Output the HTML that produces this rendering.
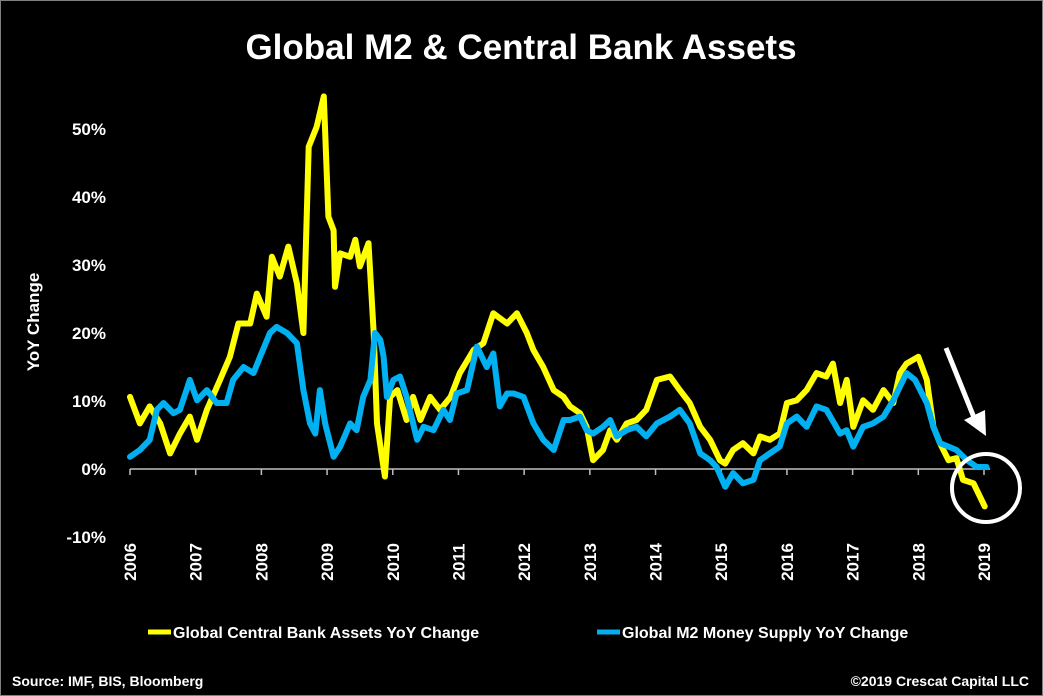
<!DOCTYPE html>
<html><head><meta charset="utf-8"><style>
html,body{margin:0;padding:0;background:#000;}
svg{display:block;font-family:"Liberation Sans",Arial,sans-serif;}
</style></head><body>
<svg id="chart" width="1043" height="696" viewBox="0 0 1043 696">
<rect x="0.5" y="0.5" width="1042" height="695" fill="#000" stroke="#7f7f7f"/>
<text x="521" y="59" text-anchor="middle" fill="#fff" font-size="35" font-weight="bold">Global M2 &amp; Central Bank Assets</text>
<text transform="translate(39,322) rotate(-90)" text-anchor="middle" fill="#fff" font-size="17" font-weight="bold">YoY Change</text>
<g id="yticks"></g>
<g id="xticks"></g>
<g id="series"></g>
<g>
<line x1="946" y1="348" x2="975" y2="420" stroke="#fff" stroke-width="5"/>
<polygon points="964,420 986,436 985,410" fill="#fff"/>
</g>
<circle cx="986" cy="488" r="34" fill="none" stroke="#fff" stroke-width="4"/>
<g>
<g>
<line x1="148" y1="632" x2="171" y2="632" stroke="#ffff00" stroke-width="5"/>
<text x="173" y="638" fill="#fff" font-size="16" font-weight="bold">Global Central Bank Assets YoY Change</text>
</g>
<g>
<line x1="597" y1="632" x2="620" y2="632" stroke="#00b0f0" stroke-width="5"/>
<text x="622" y="638" fill="#fff" font-size="16" font-weight="bold">Global M2 Money Supply YoY Change</text>
</g>
</g>
<text x="12" y="686" fill="#fff" font-size="14" font-weight="bold">Source: IMF, BIS, Bloomberg</text>
<text x="1029" y="686" text-anchor="end" fill="#fff" font-size="14" font-weight="bold">©2019 Crescat Capital LLC</text>
</svg>
<script>
const yTicks = [-10, 0, 10, 20, 30, 40, 50];
const yearLabels = [2006,2007,2008,2009,2010,2011,2012,2013,2014,2015,2016,2017,2018,2019];
const cbDates = [2006.0,2006.15,2006.30,2006.46,2006.61,2006.76,2006.91,2007.02,2007.17,2007.37,2007.52,2007.65,2007.83,2007.93,2008.08,2008.16,2008.28,2008.41,2008.54,2008.64,2008.72,2008.84,2008.95,2009.02,2009.10,2009.12,2009.20,2009.35,2009.43,2009.50,2009.63,2009.71,2009.76,2009.88,2009.96,2010.07,2010.21,2010.31,2010.42,2010.57,2010.72,2010.88,2011.02,2011.23,2011.38,2011.53,2011.74,2011.89,2012.04,2012.14,2012.29,2012.45,2012.60,2012.70,2012.85,2012.95,2013.05,2013.20,2013.31,2013.41,2013.56,2013.71,2013.86,2014.02,2014.22,2014.37,2014.52,2014.68,2014.83,2014.98,2015.06,2015.18,2015.33,2015.49,2015.59,2015.74,2015.89,2016.0,2016.15,2016.30,2016.45,2016.60,2016.70,2016.81,2016.91,2017.01,2017.16,2017.31,2017.47,2017.62,2017.72,2017.82,2018.0,2018.13,2018.23,2018.33,2018.46,2018.58,2018.68,2018.84,2018.94,2019.01];
const cbValues = [10.6,6.7,9.2,6.7,2.3,5.2,7.7,4.3,8.7,13.1,16.5,21.4,21.4,25.8,22.4,31.2,28.3,32.7,27.3,20.0,47.4,50.3,54.8,37.1,35.1,26.8,31.7,31.2,33.7,29.8,33.2,20.0,6.7,-1.1,10.6,11.6,7.2,10.6,7.2,10.6,8.7,10.6,14.1,17.5,18.5,22.9,21.4,22.9,20.0,17.5,15.0,11.6,10.6,9.2,8.2,6.2,1.3,2.8,5.7,4.3,6.7,7.2,8.7,13.1,13.6,11.6,9.7,6.2,4.3,1.3,0.8,2.8,3.8,2.3,4.8,4.3,5.2,9.7,10.1,11.6,14.1,13.6,15.5,9.7,13.1,6.2,10.1,8.7,11.6,9.7,14.1,15.5,16.5,13.1,6.2,3.8,1.3,1.6,-1.6,-2.1,-4.1,-5.5];
const m2Dates = [2006.0,2006.15,2006.30,2006.41,2006.51,2006.66,2006.76,2006.86,2006.91,2007.02,2007.17,2007.32,2007.47,2007.57,2007.73,2007.88,2007.98,2008.13,2008.23,2008.39,2008.54,2008.64,2008.74,2008.82,2008.89,2008.97,2009.10,2009.20,2009.35,2009.45,2009.55,2009.66,2009.73,2009.81,2009.86,2009.91,2010.01,2010.11,2010.21,2010.31,2010.37,2010.47,2010.62,2010.77,2010.87,2010.97,2011.13,2011.28,2011.43,2011.53,2011.63,2011.74,2011.84,2011.99,2012.14,2012.29,2012.45,2012.60,2012.70,2012.85,2012.95,2013.05,2013.20,2013.31,2013.41,2013.56,2013.71,2013.86,2014.02,2014.22,2014.37,2014.52,2014.68,2014.83,2014.93,2015.06,2015.18,2015.33,2015.49,2015.59,2015.74,2015.89,2016.0,2016.15,2016.30,2016.45,2016.60,2016.75,2016.81,2016.91,2017.01,2017.16,2017.31,2017.47,2017.62,2017.72,2017.82,2017.95,2018.13,2018.23,2018.33,2018.46,2018.58,2018.74,2018.89,2018.99,2019.04];
const m2Values = [1.8,2.8,4.3,8.7,9.7,8.2,8.7,11.6,13.1,10.1,11.6,9.7,9.7,13.1,15.0,14.1,16.5,20.0,20.9,20.0,18.5,11.6,6.7,5.2,11.6,6.7,1.8,3.3,6.7,5.7,10.6,13.1,20.0,19.0,16.5,10.6,13.1,13.6,10.6,6.7,4.3,6.2,5.7,8.7,7.2,11.1,11.6,18.0,15.0,17.0,9.2,11.1,11.1,10.6,6.7,4.3,2.8,7.2,7.2,7.7,5.7,5.2,6.2,7.2,4.8,5.7,6.2,4.8,6.7,7.7,8.7,6.7,2.3,1.3,0.3,-2.6,-0.6,-2.1,-1.6,1.3,2.3,3.3,6.7,7.7,6.2,9.2,8.7,6.2,5.2,5.7,3.3,6.2,6.7,7.7,10.1,12.1,14.1,13.1,9.7,6.2,3.8,3.3,2.8,1.3,0.3,0.3,0.3];

const NS = 'http://www.w3.org/2000/svg';
const x0 = 130, x1 = 984, yZero = 469, pxPerPct = 6.8;
function xScale(t){ return x0 + (t - 2006) * (x1 - x0) / 13; }
function yScale(v){ return yZero - v * pxPerPct; }

const yg = document.getElementById('yticks');
yTicks.forEach(v => {
  const t = document.createElementNS(NS,'text');
  
  
  t.setAttribute('x', 106);
  t.setAttribute('y', yScale(v) + 6);
  t.setAttribute('text-anchor','end');
  t.setAttribute('fill','#fff');
  t.setAttribute('font-size','17');
  t.setAttribute('font-weight','bold');
  t.textContent = v + '%';
  yg.appendChild(t);
});

const xg = document.getElementById('xticks');
const axis = document.createElementNS(NS,'line');


axis.setAttribute('x1', x0); axis.setAttribute('x2', x1 + 6);
axis.setAttribute('y1', yZero); axis.setAttribute('y2', yZero);
axis.setAttribute('stroke','#bfbfbf'); axis.setAttribute('stroke-width','1.5');
xg.appendChild(axis);
yearLabels.forEach(yr => {
  const x = xScale(yr);
  const tk = document.createElementNS(NS,'line');
  
  
  tk.setAttribute('x1', x); tk.setAttribute('x2', x);
  tk.setAttribute('y1', yZero); tk.setAttribute('y2', yZero + 6);
  tk.setAttribute('stroke','#bfbfbf'); tk.setAttribute('stroke-width','1.5');
  xg.appendChild(tk);
  const t = document.createElementNS(NS,'text');
  
  
  t.setAttribute('transform', 'translate(' + (x + 6) + ',' + 562 + ') rotate(-90)');
  t.setAttribute('text-anchor','middle');
  t.setAttribute('fill','#fff');
  t.setAttribute('font-size','17');
  t.setAttribute('font-weight','bold');
  t.textContent = yr;
  xg.appendChild(t);
});

const sg = document.getElementById('series');
function drawLine(dates, vals, color, name){
  let d = '';
  dates.forEach((t,i) => { d += (i ? 'L' : 'M') + xScale(t).toFixed(1) + ',' + yScale(vals[i]).toFixed(1); });
  const p = document.createElementNS(NS,'path');
  
  
  p.setAttribute('d', d);
  p.setAttribute('fill','none');
  p.setAttribute('stroke', color);
  p.setAttribute('stroke-width','6');
  p.setAttribute('stroke-linejoin','round');
  p.setAttribute('stroke-linecap','round');
  sg.appendChild(p);
}
drawLine(cbDates, cbValues, '#ffff00', 'central-bank-assets-line');
drawLine(m2Dates, m2Values, '#00b0f0', 'm2-money-supply-line');
</script>
</body></html>
